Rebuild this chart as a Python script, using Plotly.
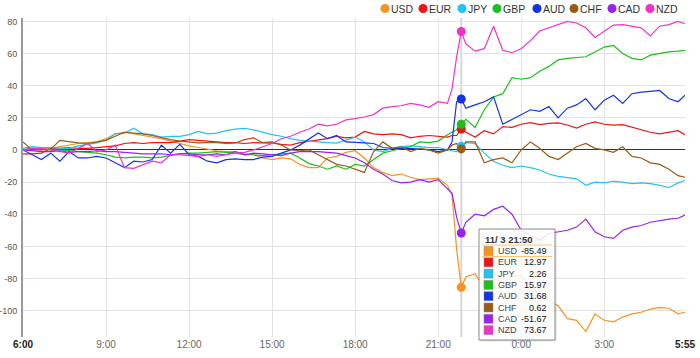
import plotly.graph_objects as go
from datetime import datetime, timedelta

# ---------------- data ----------------
START = datetime(2023, 11, 3, 6, 0)
MINUTES = sorted(list(range(0, 1440, 20)) + [930, 950, 1435])
TIMES = [START + timedelta(minutes=m) for m in MINUTES]

NAMES = ["USD", "EUR", "JPY", "GBP", "AUD", "CHF", "CAD", "NZD"]
COLORS = ["#F7931E", "#F01414", "#22C3F0", "#1DBF1D", "#1433E8", "#9A5B17", "#9A22F0", "#F032C8"]

USD = [0, 1, 0, 1, 2, 3, 4, 4.5, 5, 7,
       10, 11, 10, 9, 8, 7, 5.5, 4, 2.5, 1.5,
       0.5, -0.5, -1, -1, -2.5, -3, -5, -6, -5, -5.5,
       -9, -11, -11, -5, -4, -1.5, -0.5, -5, -11, -14,
       -16, -15, -17, -18.5, -18, -17.5, -22,
       -28, -62, -85.49,
       -79, -77, -86, -80, -83, -79, -78, -85, -90, -94,
       -97, -105, -106, -113, -102, -106, -107, -104, -102, -101,
       -99, -98, -98.5, -102,
       -101]
EUR = [-2.5, -2.5, -2, 1, 1, 1.5, 1, 1, 1.5, 2,
       2.5, 4, 4.5, 4, 4.5, 4.5, 4.5, 5.5, 6.4, 6,
       5.5, 5, 4.5, 4.5, 4, 4.5, 4.3, 4.3, 3.5, 3,
       4.5, 5.4, 6, 7, 8.5, 7.5, 8, 11.5, 10, 9.5,
       10, 9.5, 7.5, 8.5, 9, 8.5, 8,
       9, 9, 12.97,
       11, 8, 12, 10, 14.5, 14, 16, 17, 15.7, 16.5,
       16.8, 15.5, 13.6, 16, 17.5, 16, 15.5, 15.7, 14, 12.5,
       11, 10, 11, 12,
       9.5]
JPY = [1, 2, 1.5, 1.5, 1, 1, 2.5, 3.3, 4.4, 6,
       10, 10.5, 13.5, 10, 9.5, 8, 8.5, 8.5, 9.5, 11.5,
       10, 10.5, 12, 13, 13.5, 12.5, 11, 9.5, 8.5, 7,
       6, 5.4, 5, 4.5, 4.3, 6, 8, 5, 0, -1,
       1, 2, 2.5, 2, 1.5, 1.5, 0,
       -0.5, -1, 2.26,
       4.5, 4, -2, -7, -9.5, -11, -10, -11, -12.5, -15,
       -16.4, -17.4, -18, -22, -20, -20.5, -19.5, -20, -21, -20.5,
       -21, -22, -23.5, -20.5,
       -19]
GBP = [0, 1, 0.5, 0, 0, -0.5, -1, -1.5, -2, -3,
       -4.5, -5, -4.5, -4.5, -5, -4.5, -3.5, -2.5, -2, -2,
       -1.5, -1, -1.5, -2, -3, -3, -3.5, -3, -2.5, -2,
       -5, -8.5, -10, -12, -10, -12, -9, -10, -6, -2,
       -0.5, 1, 2, 5, 4.5, 5.5, 9.5,
       11, 12.6, 15.97,
       19, 14, 25, 33, 35, 45, 44, 45, 49, 52,
       56, 57, 57.5, 58, 61, 64, 65, 60, 57, 56,
       59, 60, 61, 61.5,
       62]
AUD = [0, -3, -6, -2, -7, -1, -5, -5, -4, -5,
       -8, -11, -7, -7.5, -6, 3, -2, 3.5, -3, -4,
       -7, -8, -6, -5.5, -6, -6, -4.5, -4, -2, 0,
       3, 7, 10.5, 7, 9, 5, 4.5, 4.4, 4, 1.5,
       1, 1, 1, 0.5, 0, -1, 0,
       5, 30, 31.68,
       26, 28, 30, 33, 16, 19, 22, 25, 24, 27,
       20, 26, 28, 32, 25, 31, 34, 29, 35, 36,
       36.5, 37, 32, 30,
       34]
CHF = [5, 0, 0, 0.5, 6, 5, 4.4, 4, 5, 6,
       8.5, 11, 10.5, 10, 9, 7.5, 6.4, 5.5, 5, 4.4,
       4.5, 4.5, 4, 4.3, 6.4, 7.5, 4.5, 5, 3, 0,
       -0.5, 0, -3, -6, -9, -10, -12, -14, -1, 5,
       1, 2, -1, 1, 0, -2, 0,
       3, 4, 0.62,
       5, 5, -8, -6, -5, -8, 0, 5, 1, -4,
       -6, -2, 2, 4, 1, 0, -1.5, 2, -4, -5,
       -8, -9, -12, -16,
       -17]
CAD = [0, -0.5, -1, -1, -0.5, -1.5, -1, -1, -0.5, -1,
       -1, -1.5, -2, -2.5, -2.5, -2.5, -3, -2.5, -2.5, -3,
       -3, -2.5, -3, -1, -3, -2, -2.5, -3, -3.5, -2,
       -1, -1, -1, -1.5, -2, -3.5, -5, -8, -12, -15,
       -19, -20.5, -20, -18.5, -20, -18.5, -24,
       -27, -42, -51.67,
       -45, -40, -41, -37, -35, -40, -50, -53, -56, -52,
       -51, -50, -48, -43, -51, -54, -55, -50, -48, -47,
       -45, -44, -43, -42.5,
       -40.5]
NZD = [0, 1, 1, 0, -1, -2, 1, 4, -1, 0,
       3, -11, -11.5, -9, -7, -8, -3, -3, -3.5, -4,
       -3, -4, -3, -2, -1.5, 0, 2, 4, 7, 8.5,
       11, 13, 16, 15, 16, 18.7, 19.5, 20.5, 22, 26,
       27, 27.5, 29, 28, 26.5, 30, 29,
       38, 58, 73.67,
       66, 61.5, 63, 77, 62, 60.5, 63, 68, 74, 76,
       78, 80, 79, 76, 70, 74, 77.7, 78, 77, 76,
       71, 77, 78, 80,
       78.5]
SERIES = [USD, EUR, JPY, GBP, AUD, CHF, CAD, NZD]

HOVER_MIN = 950  # 21:50
TICK_TIMES = [START + timedelta(hours=h) for h in (0, 3, 6, 9, 12, 15, 18, 21)] + [TIMES[-1]]
TICK_LABELS = ["6:00", "9:00", "12:00", "15:00", "18:00", "21:00", "0:00", "3:00", "5:55"]
Y_TICKS = list(range(-100, 81, 20))

# ---------------- layout helpers ----------------
W, H = 700, 358
ML, MR, MT, MB = 23, 15, 18, 21
PW, PH = W - ML - MR, H - MT - MB
FONT = "Liberation Sans, Arial, sans-serif"


def fx(x):
    return (x - ML) / PW


def fy(y):
    return (H - MB - y) / PH


fig = go.Figure()
for name, vals, col in zip(NAMES, SERIES, COLORS):
    fig.add_trace(go.Scatter(x=TIMES, y=vals, mode="lines", name=name,
                             line=dict(color=col, width=1.2), hoverinfo="skip"))

hi = MINUTES.index(HOVER_MIN)
for name, vals, col in zip(NAMES, SERIES, COLORS):
    fig.add_trace(go.Scatter(x=[TIMES[hi]], y=[vals[hi]], mode="markers", name=name,
                             marker=dict(color=col, size=9), hoverinfo="skip"))

shapes = []
annotations = []

# hover crosshair
shapes.append(dict(type="line", xref="x", yref="paper", x0=TIMES[hi], x1=TIMES[hi], y0=0, y1=1,
                   line=dict(color="rgba(205,205,205,0.8)", width=2), layer="below"))

# custom legend
leg_cx = [385, 423, 462, 497, 537, 574, 612, 650]
for cx, name, col in zip(leg_cx, NAMES, COLORS):
    shapes.append(dict(type="circle", xref="paper", yref="paper",
                       x0=fx(cx - 4.5), x1=fx(cx + 4.5), y0=fy(13), y1=fy(4),
                       fillcolor=col, line=dict(width=0)))
    annotations.append(dict(xref="paper", yref="paper", x=fx(cx + 4), y=fy(8.5),
                            xanchor="left", yanchor="middle", showarrow=False, text=name,
                            font=dict(family=FONT, size=10.5, color="#333")))

# tooltip
bx0, bx1, by0, by1 = 479, 555, 229, 340
shapes.append(dict(type="rect", xref="paper", yref="paper",
                   x0=fx(bx0 + 1.5), x1=fx(bx1 + 1.5), y0=fy(by1 + 1.5), y1=fy(by0 + 1.5),
                   fillcolor="rgba(0,0,0,0.12)", line=dict(width=0)))
shapes.append(dict(type="rect", xref="paper", yref="paper",
                   x0=fx(bx0), x1=fx(bx1), y0=fy(by1), y1=fy(by0),
                   fillcolor="rgba(255,255,255,0.88)", line=dict(color="#8a8a8a", width=1)))
t = TIMES[hi]
title = f"{t.month}/{t.day:2d} {t.hour}:{t.minute:02d}"
annotations.append(dict(xref="paper", yref="paper", x=fx(483), y=fy(239.5), xanchor="left",
                        yanchor="middle", showarrow=False, text=f"<b>{title}</b>",
                        font=dict(family=FONT, size=9.5, color="#333")))
row0, dy = 251, 11.3
for i, (name, vals, col) in enumerate(zip(NAMES, SERIES, COLORS)):
    yc = row0 + i * dy
    shapes.append(dict(type="rect", xref="paper", yref="paper",
                       x0=fx(484), x1=fx(493), y0=fy(yc + 4.5), y1=fy(yc - 4.5),
                       fillcolor=col, line=dict(color="#888", width=0.5)))
    annotations.append(dict(xref="paper", yref="paper", x=fx(496), y=fy(yc), xanchor="left",
                            yanchor="middle", showarrow=False, text=name,
                            font=dict(family=FONT, size=9, color="#444")))
    annotations.append(dict(xref="paper", yref="paper", x=fx(549), y=fy(yc), xanchor="right",
                            yanchor="middle", showarrow=False, text=f"{vals[hi]:.2f}",
                            font=dict(family=FONT, size=9, color="#111")))
for yl in (row0 - 6, row0 + 5.5):
    shapes.append(dict(type="line", xref="paper", yref="paper", x0=fx(bx0 + 3), x1=fx(bx1 - 3),
                       y0=fy(yl), y1=fy(yl), line=dict(color="#F9C57E", width=1.2)))

tick_text = []
for i, lab in enumerate(TICK_LABELS):
    if i in (0, len(TICK_LABELS) - 1):
        tick_text.append(f"<span style='color:#222'><b>{lab}</b></span>")
    else:
        tick_text.append(lab)

fig.update_layout(
    width=W, height=H,
    margin=dict(l=ML, r=MR, t=MT, b=MB, autoexpand=False),
    paper_bgcolor="white", plot_bgcolor="white",
    font=dict(family=FONT, size=10, color="#555"),
    showlegend=False, hovermode=False,
    shapes=shapes, annotations=annotations,
)
fig.update_xaxes(type="date", range=[TIMES[0], TIMES[-1]], tickvals=TICK_TIMES, ticktext=tick_text,
                 showgrid=True, gridcolor="#e2e2e2", gridwidth=1, zeroline=False, showline=False,
                 ticks="", tickfont=dict(family=FONT, size=10, color="#666"), automargin=False)
fig.update_yaxes(range=[-116.4, 82.1], tickvals=Y_TICKS, ticktext=[str(v) for v in Y_TICKS],
                 showgrid=True, gridcolor="#e2e2e2", gridwidth=1,
                 zeroline=True, zerolinecolor="#333", zerolinewidth=1,
                 showline=True, linecolor="#999", linewidth=2, ticks="",
                 ticklabelstandoff=2, tickfont=dict(family=FONT, size=9, color="#555"),
                 automargin=False)

fig.write_html("out.html", config={"displayModeBar": False},
               post_script="document.body.style.margin='0px';document.body.style.overflow='hidden';")
